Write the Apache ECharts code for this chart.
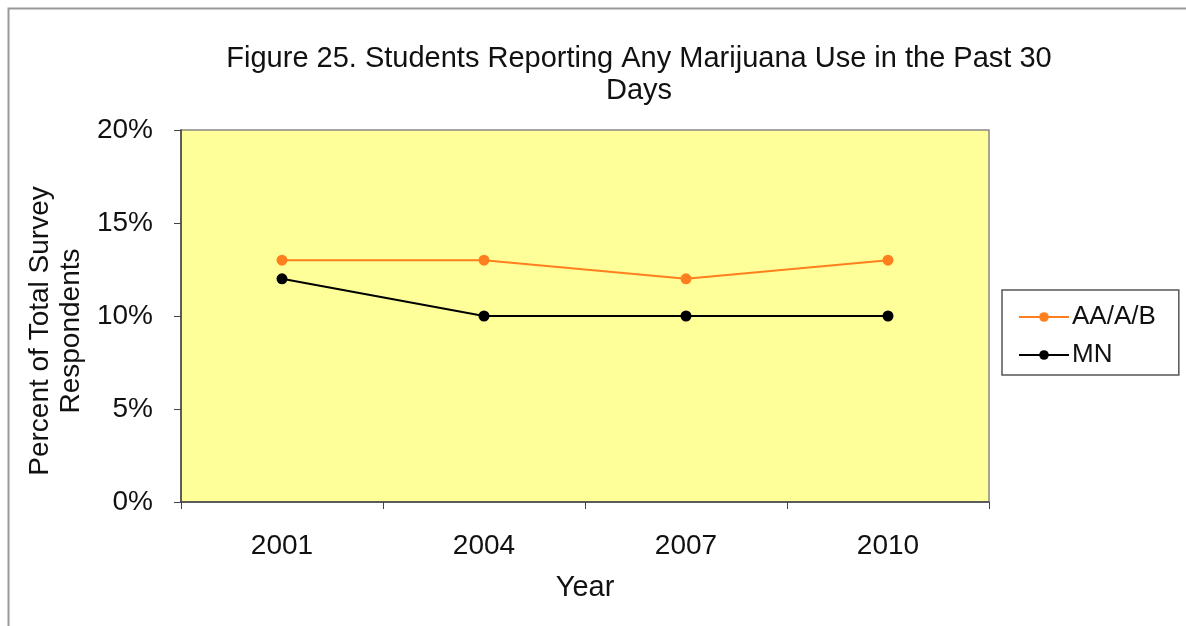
<!DOCTYPE html>
<html><head><meta charset="utf-8">
<script src="https://cdn.jsdelivr.net/npm/echarts@6/dist/echarts.min.js"></script>
<style>html,body{margin:0;padding:0;background:#fff}#c{width:1186px;height:626px}</style>
</head><body><div id="c"></div>
<script>
const years = ['2001','2004','2007','2010'];
const aaab = [13,13,12,13];
const mn = [12,10,10,10];
const yTicks = [0,5,10,15,20];
const FONT = '"Liberation Sans", Arial, sans-serif';
const chart = echarts.init(document.getElementById('c'));
chart.setOption({
  backgroundColor:'#fff',
  animation:false,
  title:{text:'Figure 25. Students Reporting Any Marijuana Use in the Past 30\nDays',left:634,top:38,textAlign:'center',
    textStyle:{fontFamily:FONT,fontSize:29,fontWeight:'normal',color:'#111',lineHeight:32}},
  graphic:[
    {type:'polyline',shape:{points:[[8.5,626],[8.5,8.5],[1186,8.5]]},style:{stroke:'#999',lineWidth:2,fill:null}},
    {type:'text',x:56,y:331,rotation:Math.PI/2,style:{text:'Percent of Total Survey\nRespondents',font:'28px "Liberation Sans", Arial, sans-serif',fill:'#111',align:'center',verticalAlign:'middle',lineHeight:31}}
  ],
  grid:{left:181,top:130,width:808,height:372,show:true,backgroundColor:'#FFFF99',borderColor:'#888',borderWidth:1.5},
  legend:{orient:'vertical',left:1002,top:290,padding:[14,23,7,16],itemGap:12,
    borderColor:'#555',borderWidth:1.5,backgroundColor:'#fff',itemWidth:50,itemHeight:12,
    textStyle:{fontFamily:FONT,fontSize:26,color:'#111',padding:[0,0,0,-2]},
    data:['AA/A/B','MN']},
  xAxis:{type:'category',data:years,boundaryGap:true,name:'Year',nameLocation:'middle',nameGap:71,
    nameTextStyle:{fontFamily:FONT,fontSize:29,color:'#111'},
    axisLine:{lineStyle:{color:'#444',width:1.5}},axisTick:{show:true,length:7,lineStyle:{color:'#444'}},
    axisLabel:{fontFamily:FONT,fontSize:28,color:'#111',margin:30}},
  yAxis:{type:'value',min:0,max:20,interval:5,
    axisLine:{show:true,lineStyle:{color:'#444',width:1.5}},axisTick:{show:true,length:7,lineStyle:{color:'#444'}},
    splitLine:{show:false},
    axisLabel:{fontFamily:FONT,fontSize:28,color:'#111',margin:28,formatter:v=>v+'%'}},
  series:[
    {name:'AA/A/B',type:'line',data:aaab,symbol:'circle',symbolSize:11,itemStyle:{color:'#FF7F1E'},lineStyle:{color:'#FF7F1E',width:2}},
    {name:'MN',type:'line',data:mn,symbol:'circle',symbolSize:11,itemStyle:{color:'#000'},lineStyle:{color:'#000',width:2}}
  ]
});
</script></body></html>
